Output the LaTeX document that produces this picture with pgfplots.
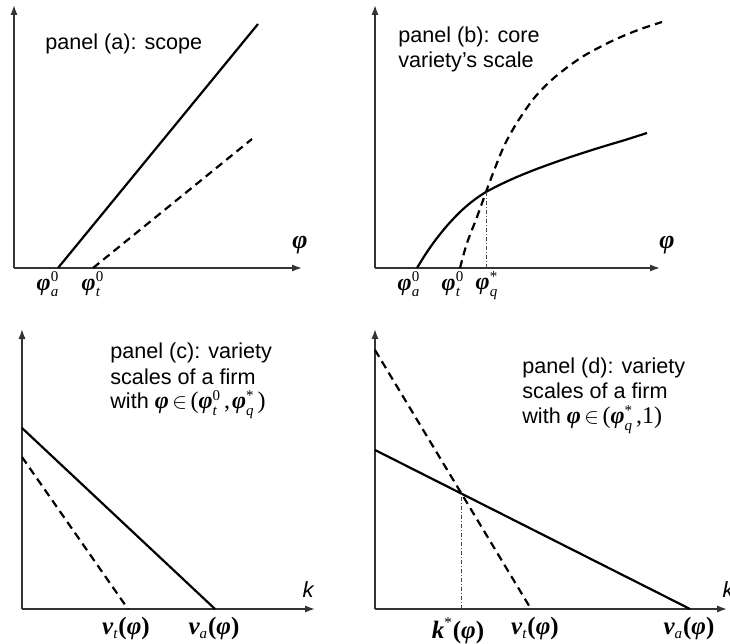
\documentclass[border=0pt]{standalone}
\usepackage{fontspec}
\setmainfont{Liberation Sans}
\newfontfamily\tnr{Liberation Serif}
\usepackage{pgfplots}
\pgfplotsset{compat=1.18}
\usetikzlibrary{arrows.meta}

\newcommand{\bphi}{\mbox{\tnr\bfseries\itshape φ}}
\newcommand{\ssz}{\fontsize{7.5}{8}\selectfont}
\newcommand{\phis}[2]{\bphi^{\mbox{\tnr\ssz #2}}_{\mbox{\tnr\itshape\ssz #1}}}
\newcommand{\philab}[2]{$\phis{#1}{#2}$}
\newcommand{\vlab}[1]{$\mbox{\tnr\bfseries\itshape v}_{\mbox{\tnr\itshape\ssz #1}}\mbox{\tnr\bfseries(}\bphi\mbox{\tnr\bfseries)}$}
\newcommand{\panelfont}{\fontsize{10.8}{12.5}\selectfont}
\newcommand{\mfont}{\fontsize{12}{14}\selectfont}

\pgfplotsset{
  panel/.style={
    scale only axis, axis lines=left, xmin=0, ymin=0,
    ytick=\empty, major tick length=0pt, clip=false,
    axis line style={line width=0.8pt, black!80, -{Latex[length=5pt,width=3.6pt]}},
    xticklabel style={anchor=north, inner sep=0pt, yshift=-1.5pt, font=\fontsize{12}{14}\selectfont},
  },
  sol/.style={black, line width=1.1pt},
  das/.style={black, line width=1.1pt, dash pattern=on 4pt off 2.6pt},
  dd/.style={black!70, line width=0.4pt, dash pattern=on 2pt off 1pt on 0.5pt off 1pt},
}

\begin{document}
\begin{tikzpicture}
\useasboundingbox (0,0) rectangle (365pt,322pt);

% panel (a)
\begin{axis}[panel, at={(7pt,188pt)}, anchor=south west,
  width=144pt, height=131.5pt, xmax=288, ymax=263,
  xtick={34,79}, xticklabels={\philab{a}{0},\philab{t}{0}}]
\addplot[sol] coordinates {(44,0) (244,244)};
\addplot[das] coordinates {(79,0) (238,129)};
\node[anchor=base west, font=\panelfont, inner sep=0pt] at (axis cs:31,218) {panel (a): scope};
\node[font=\fontsize{13}{15}\selectfont] at (axis cs:286,23) {\bphi};
\end{axis}

% panel (b)
\begin{axis}[panel, at={(187.5pt,188pt)}, anchor=south west,
  width=142.5pt, height=131.5pt, xmax=285, ymax=263,
  xtick={34,78,112}, xticklabels={\philab{a}{0},\philab{t}{0},\philab{q}{*}}]
\addplot[sol, smooth] coordinates {(42,0) (50,12.9) (58,24.6) (67,36.3) (75,45.6) (84,55) (92,62.3) (101,69.4) (111,76) (125,83.3) (140,90.2) (158,97.6) (180,105.7) (200,112.5) (225,120.5) (250,128) (272,135)};
\addplot[das, smooth] coordinates {(85,0) (92,25) (102,51) (111,76) (120,100) (130,124) (143,147) (160,171) (180,191) (207,211) (237,227) (263,238) (287,246)};
\addplot[dd] coordinates {(111,0) (111,76)};
\node[anchor=base west, font=\panelfont, inner sep=0pt] at (axis cs:23,225) {panel (b): core};
\node[anchor=base west, font=\panelfont, inner sep=0pt] at (axis cs:23,200) {variety's scale};
\node[font=\fontsize{13}{15}\selectfont] at (axis cs:292,23) {\bphi};
\end{axis}

% panel (c)
\begin{axis}[panel, at={(11pt,17.5pt)}, anchor=south west,
  width=146.5pt, height=140pt, xmax=293, ymax=280,
  xtick={104,192}, xticklabels={\vlab{t},\vlab{a}},
  xticklabel style={font=\fontsize{12.5}{14}\selectfont, yshift=-2.5pt}]
\addplot[sol] coordinates {(0,181) (193,0)};
\addplot[das] coordinates {(0,152) (106,0)};
\node[anchor=base west, font=\panelfont, inner sep=0pt] at (axis cs:88,250) {panel (c): variety};
\node[anchor=base west, font=\panelfont, inner sep=0pt] at (axis cs:88,225) {scales of a firm};
\node[anchor=base west, font=\panelfont, inner sep=0pt] at (axis cs:88,200) {with {\mfont\bphi}\,$\in$\,{\mfont\tnr(}{\mfont$\phis{t}{0}$}\kern1.5pt{\mfont\tnr,}\kern1pt{\mfont$\phis{q}{*}$}\kern1.5pt{\mfont\tnr)}};
\node[font=\fontsize{11}{12}\selectfont\itshape] at (axis cs:286,19) {k};
\end{axis}

% panel (d)
\begin{axis}[panel, at={(187.5pt,17.5pt)}, anchor=south west,
  width=176pt, height=140pt, xmax=352, ymax=280,
  xtick={83,160,314}, xticklabels={$\mbox{\tnr\bfseries\itshape k}^{\mbox{\tnr\ssz *}}\mbox{\tnr\bfseries(}\bphi\mbox{\tnr\bfseries)}$,\vlab{t},\vlab{a}},
  xticklabel style={font=\fontsize{12.5}{14}\selectfont, yshift=-2.5pt}]
\addplot[sol] coordinates {(0,159) (315,0)};
\addplot[das] coordinates {(0,259) (156,0)};
\addplot[dd] coordinates {(86.6,0) (86.6,115.3)};
\node[anchor=base west, font=\panelfont, inner sep=0pt] at (axis cs:147,235) {panel (d): variety};
\node[anchor=base west, font=\panelfont, inner sep=0pt] at (axis cs:147,210) {scales of a firm};
\node[anchor=base west, font=\panelfont, inner sep=0pt] at (axis cs:147,185) {with {\mfont\bphi}\,$\in$\,{\mfont\tnr(}{\mfont$\phis{q}{*}$}\kern1.5pt{\mfont\tnr,1)}};
\node[font=\fontsize{11}{12}\selectfont\itshape] at (axis cs:353,19) {k};
\end{axis}
\end{tikzpicture}
\end{document}
